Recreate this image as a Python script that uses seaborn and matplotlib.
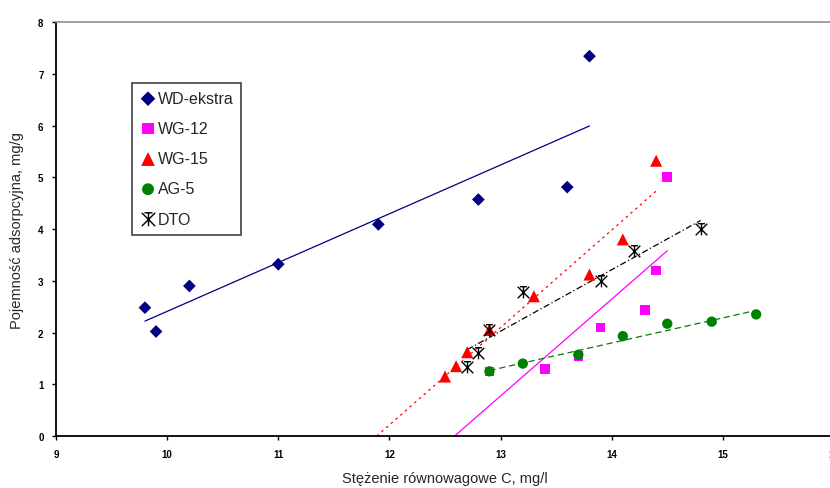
import numpy as np
import pandas as pd
import matplotlib
matplotlib.use('Agg')
import matplotlib.pyplot as plt
from matplotlib.path import Path
import seaborn as sns

# values
wd_x = [9.8, 9.9, 10.2, 11.0, 11.9, 12.8, 13.6, 13.8]
wd_y = [2.48, 2.02, 2.9, 3.32, 4.09, 4.57, 4.81, 7.34]

wg12_x = [12.9, 13.4, 13.7, 13.9, 14.3, 14.4, 14.5]
wg12_y = [1.25, 1.3, 1.55, 2.1, 2.43, 3.2, 5.0]

wg15_x = [12.5, 12.6, 12.7, 12.9, 13.3, 13.8, 14.1, 14.4]
wg15_y = [1.15, 1.35, 1.62, 2.05, 2.7, 3.12, 3.8, 5.32]

ag5_x = [12.9, 13.2, 13.7, 14.1, 14.5, 14.9, 15.3]
ag5_y = [1.25, 1.4, 1.57, 1.93, 2.17, 2.21, 2.35]

dto_x = [12.7, 12.8, 12.9, 13.2, 13.9, 14.2, 14.8]
dto_y = [1.33, 1.6, 2.05, 2.78, 3.0, 3.58, 4.0]

x_ticks = [9, 10, 11, 12, 13, 14, 15, 16]
y_ticks = [0, 1, 2, 3, 4, 5, 6, 7, 8]

# excel style star marker: asterisk with a bar on top
star = Path([(-1, 1), (1, -1), (-1, -1), (1, 1), (0, 1), (0, -1), (-0.6, 1), (0.6, 1)],
            [Path.MOVETO, Path.LINETO, Path.MOVETO, Path.LINETO,
             Path.MOVETO, Path.LINETO, Path.MOVETO, Path.LINETO])

series = [
    # label, x, y, colour, marker, size, line style, extend back to y=0
    ('WD-ekstra', wd_x, wd_y, '#000080', 'D', 42, '-', False),
    ('WG-12', wg12_x, wg12_y, '#ff00ff', 's', 48, '-', True),
    ('WG-15', wg15_x, wg15_y, '#ff0000', '^', 75, (0, (2, 3)), True),
    ('AG-5', ag5_x, ag5_y, '#008000', 'o', 55, (0, (5, 3)), False),
    ('DTO', dto_x, dto_y, '#000000', star, 70, (0, (5, 2, 1, 2)), False),
]

sns.set_style('white')
plt.rcParams['font.family'] = ['Liberation Sans', 'DejaVu Sans']

fig = plt.figure(figsize=(8.3, 4.89), dpi=100)
ax = fig.add_axes([0.0675, 0.1063, 0.9373, 0.8466])

for label, xs, ys, col, mk, sz, ls, back in series:
    df = pd.DataFrame({'x': xs, 'y': ys})
    a, b = np.polyfit(df['x'], df['y'], 1)
    x0 = -b / a if back else df['x'].min()
    lx = np.linspace(x0, df['x'].max(), 50)
    sns.lineplot(x=lx, y=a * lx + b, color=col, lw=0.9, linestyle=ls, ax=ax, zorder=2)
    if mk is star:
        sns.scatterplot(data=df, x='x', y='y', marker=mk, s=sz, color=col,
                        edgecolor=col, linewidth=1.0, label=label, ax=ax, zorder=3)
    else:
        sns.scatterplot(data=df, x='x', y='y', marker=mk, s=sz, color=col,
                        edgecolor='none', linewidth=0, label=label, ax=ax, zorder=3)

ax.set_xlim(9, 16)
ax.set_ylim(0, 8)
ax.set_xticks(x_ticks)
ax.set_yticks(y_ticks)
ax.tick_params(axis='both', labelsize=7, length=3, width=1, direction='out',
               bottom=True, left=True, pad=6, colors='#000000')
for t in ax.get_xticklabels() + ax.get_yticklabels():
    t.set_fontweight('bold')

ax.spines['left'].set_color('black')
ax.spines['left'].set_linewidth(1.3)
ax.spines['bottom'].set_color('black')
ax.spines['bottom'].set_linewidth(1.3)
ax.spines['top'].set_color('#999999')
ax.spines['top'].set_linewidth(1.3)
ax.spines['right'].set_visible(False)

ax.set_xlabel('Stężenie równowagowe C, mg/l', fontsize=10.5, labelpad=9)
ax.set_ylabel('Pojemność adsorpcyjna, mg/g', fontsize=10.5, labelpad=10)

leg = ax.legend(loc='upper left', bbox_to_anchor=(0.0977, 0.853), frameon=True,
                fancybox=False, edgecolor='#222222', fontsize=11.5,
                handletextpad=0.1, handlelength=1.0, labelspacing=0.95,
                borderpad=0.5, borderaxespad=0, markerscale=1.15)
leg.get_frame().set_linewidth(1.3)

fig.savefig('out.png', dpi=100)
